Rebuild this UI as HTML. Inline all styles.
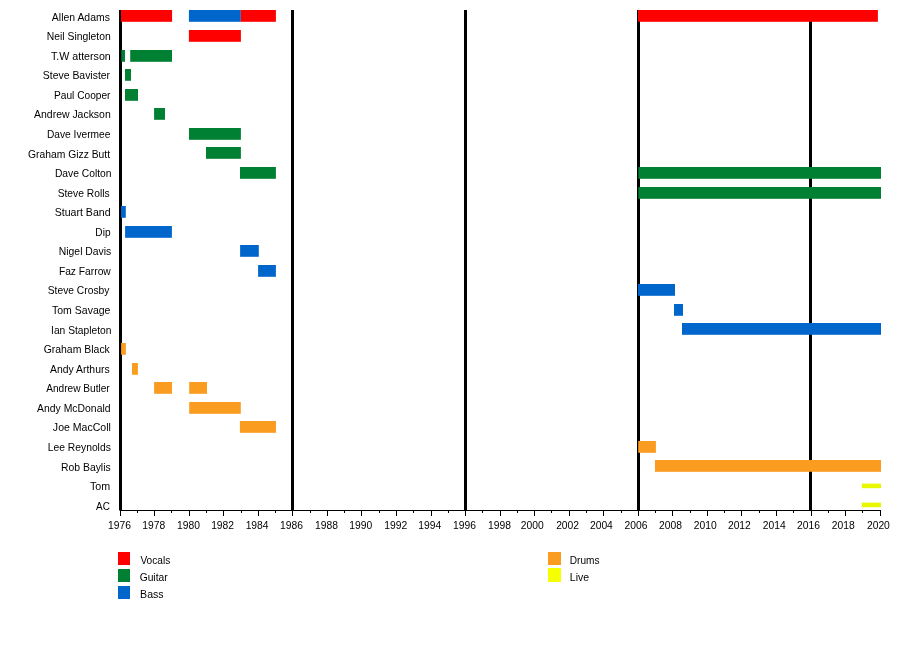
<!DOCTYPE html><html><head><meta charset="utf-8"><style>html,body{margin:0;padding:0;background:#fff;overflow:hidden;}svg{display:block;will-change:transform;}text{font-family:"Liberation Sans",sans-serif;font-size:10.3px;fill:#000;}</style></head><body>
<svg width="900" height="660" viewBox="0 0 900 660">
<rect x="0" y="0" width="900" height="660" fill="#fff"/>
<rect x="119" y="10" width="3" height="500.5" fill="#000"/>
<rect x="291" y="10" width="3" height="500.5" fill="#000"/>
<rect x="464" y="10" width="3" height="500.5" fill="#000"/>
<rect x="637" y="10" width="3" height="500.5" fill="#000"/>
<rect x="809" y="10" width="3" height="500.5" fill="#000"/>
<rect x="121.00" y="10" width="51.10" height="11.8" fill="#FF0000"/>
<rect x="188.90" y="10" width="51.90" height="11.8" fill="#0066CC"/>
<rect x="240.80" y="10" width="35.10" height="11.8" fill="#FF0000"/>
<rect x="638.00" y="10" width="239.90" height="11.8" fill="#FF0000"/>
<rect x="188.90" y="30" width="52.00" height="11.8" fill="#FF0000"/>
<rect x="121.30" y="50" width="3.70" height="11.8" fill="#008033"/>
<rect x="130.20" y="50" width="41.80" height="11.8" fill="#008033"/>
<rect x="125.00" y="69" width="6.00" height="11.8" fill="#008033"/>
<rect x="125.00" y="89" width="13.00" height="11.8" fill="#008033"/>
<rect x="154.10" y="108" width="10.90" height="11.8" fill="#008033"/>
<rect x="189.00" y="128" width="51.90" height="11.8" fill="#008033"/>
<rect x="206.00" y="147" width="34.90" height="11.8" fill="#008033"/>
<rect x="240.00" y="167" width="35.90" height="11.8" fill="#008033"/>
<rect x="638.30" y="167" width="242.70" height="11.8" fill="#008033"/>
<rect x="638.30" y="187" width="242.70" height="11.8" fill="#008033"/>
<rect x="121.00" y="206" width="4.80" height="11.8" fill="#0066CC"/>
<rect x="125.10" y="226" width="46.80" height="11.8" fill="#0066CC"/>
<rect x="240.10" y="245" width="18.70" height="11.8" fill="#0066CC"/>
<rect x="258.10" y="265" width="17.80" height="11.8" fill="#0066CC"/>
<rect x="637.90" y="284" width="37.10" height="11.8" fill="#0066CC"/>
<rect x="674.00" y="304" width="9.00" height="11.8" fill="#0066CC"/>
<rect x="682.00" y="323" width="199.00" height="11.8" fill="#0066CC"/>
<rect x="121.10" y="343" width="4.80" height="11.8" fill="#FA9C20"/>
<rect x="132.00" y="363" width="5.90" height="11.8" fill="#FA9C20"/>
<rect x="154.10" y="382" width="17.90" height="11.8" fill="#FA9C20"/>
<rect x="189.20" y="382" width="17.80" height="11.8" fill="#FA9C20"/>
<rect x="189.20" y="402" width="51.60" height="11.8" fill="#FA9C20"/>
<rect x="239.90" y="421" width="36.10" height="11.8" fill="#FA9C20"/>
<rect x="638.20" y="441" width="17.70" height="11.8" fill="#FA9C20"/>
<rect x="655.00" y="460" width="226.00" height="11.8" fill="#FA9C20"/>
<rect x="861.80" y="483.60" width="19.20" height="4.6" fill="#E8F800"/>
<rect x="861.80" y="502.60" width="19.20" height="4.6" fill="#E8F800"/>
<text x="109.92" y="21" text-anchor="end" textLength="58.06" lengthAdjust="spacingAndGlyphs">Allen Adams</text>
<text x="110.78" y="40" text-anchor="end" textLength="63.99" lengthAdjust="spacingAndGlyphs">Neil Singleton</text>
<text x="110.81" y="60" text-anchor="end" textLength="59.86" lengthAdjust="spacingAndGlyphs">T.W atterson</text>
<text x="110.06" y="79" text-anchor="end" textLength="67.22" lengthAdjust="spacingAndGlyphs">Steve Bavister</text>
<text x="110.5" y="99" text-anchor="end" textLength="56.53" lengthAdjust="spacingAndGlyphs">Paul Cooper</text>
<text x="110.74" y="118" text-anchor="end" textLength="76.65" lengthAdjust="spacingAndGlyphs">Andrew Jackson</text>
<text x="110.39" y="138" text-anchor="end" textLength="63.38" lengthAdjust="spacingAndGlyphs">Dave Ivermee</text>
<text x="110.1" y="158" text-anchor="end" textLength="82.16" lengthAdjust="spacingAndGlyphs">Graham Gizz Butt</text>
<text x="111.47" y="177" text-anchor="end" textLength="56.59" lengthAdjust="spacingAndGlyphs">Dave Colton</text>
<text x="109.64" y="197" text-anchor="end" textLength="51.97" lengthAdjust="spacingAndGlyphs">Steve Rolls</text>
<text x="110.6" y="216" text-anchor="end" textLength="55.9" lengthAdjust="spacingAndGlyphs">Stuart Band</text>
<text x="110.5" y="236" text-anchor="end" textLength="15.15" lengthAdjust="spacingAndGlyphs">Dip</text>
<text x="111.29" y="255" text-anchor="end" textLength="52.49" lengthAdjust="spacingAndGlyphs">Nigel Davis</text>
<text x="110.77" y="275" text-anchor="end" textLength="51.87" lengthAdjust="spacingAndGlyphs">Faz Farrow</text>
<text x="109.38" y="294" text-anchor="end" textLength="61.63" lengthAdjust="spacingAndGlyphs">Steve Crosby</text>
<text x="110.44" y="314" text-anchor="end" textLength="58.4" lengthAdjust="spacingAndGlyphs">Tom Savage</text>
<text x="111.41" y="334" text-anchor="end" textLength="60.35" lengthAdjust="spacingAndGlyphs">Ian Stapleton</text>
<text x="109.85" y="353" text-anchor="end" textLength="66.18" lengthAdjust="spacingAndGlyphs">Graham Black</text>
<text x="109.59" y="373" text-anchor="end" textLength="59.47" lengthAdjust="spacingAndGlyphs">Andy Arthurs</text>
<text x="109.74" y="392" text-anchor="end" textLength="63.58" lengthAdjust="spacingAndGlyphs">Andrew Butler</text>
<text x="110.54" y="412" text-anchor="end" textLength="73.42" lengthAdjust="spacingAndGlyphs">Andy McDonald</text>
<text x="110.84" y="431" text-anchor="end" textLength="57.97" lengthAdjust="spacingAndGlyphs">Joe MacColl</text>
<text x="110.8" y="451" text-anchor="end" textLength="63.04" lengthAdjust="spacingAndGlyphs">Lee Reynolds</text>
<text x="110.72" y="471" text-anchor="end" textLength="49.77" lengthAdjust="spacingAndGlyphs">Rob Baylis</text>
<text x="110.23" y="490" text-anchor="end" textLength="20.2" lengthAdjust="spacingAndGlyphs">Tom</text>
<text x="109.83" y="510" text-anchor="end" textLength="13.76" lengthAdjust="spacingAndGlyphs">AC</text>
<rect x="120" y="510" width="761" height="1" fill="#000"/>
<rect x="120" y="511" width="1" height="5" fill="#000"/>
<text x="119.56" y="529" text-anchor="middle">1976</text>
<rect x="137" y="511" width="1" height="2" fill="#000"/>
<rect x="154" y="511" width="1" height="5" fill="#000"/>
<text x="153.67" y="529" text-anchor="middle">1978</text>
<rect x="171" y="511" width="1" height="2" fill="#000"/>
<rect x="189" y="511" width="1" height="5" fill="#000"/>
<text x="188.50" y="529" text-anchor="middle">1980</text>
<rect x="206" y="511" width="1" height="2" fill="#000"/>
<rect x="223" y="511" width="1" height="5" fill="#000"/>
<text x="222.60" y="529" text-anchor="middle">1982</text>
<rect x="241" y="511" width="1" height="2" fill="#000"/>
<rect x="258" y="511" width="1" height="5" fill="#000"/>
<text x="257.10" y="529" text-anchor="middle">1984</text>
<rect x="275" y="511" width="1" height="2" fill="#000"/>
<rect x="292" y="511" width="1" height="5" fill="#000"/>
<text x="291.43" y="529" text-anchor="middle">1986</text>
<rect x="310" y="511" width="1" height="2" fill="#000"/>
<rect x="327" y="511" width="1" height="5" fill="#000"/>
<text x="326.44" y="529" text-anchor="middle">1988</text>
<rect x="344" y="511" width="1" height="2" fill="#000"/>
<rect x="361" y="511" width="1" height="5" fill="#000"/>
<text x="360.68" y="529" text-anchor="middle">1990</text>
<rect x="379" y="511" width="1" height="2" fill="#000"/>
<rect x="396" y="511" width="1" height="5" fill="#000"/>
<text x="395.73" y="529" text-anchor="middle">1992</text>
<rect x="413" y="511" width="1" height="2" fill="#000"/>
<rect x="431" y="511" width="1" height="5" fill="#000"/>
<text x="429.74" y="529" text-anchor="middle">1994</text>
<rect x="448" y="511" width="1" height="2" fill="#000"/>
<rect x="465" y="511" width="1" height="5" fill="#000"/>
<text x="464.56" y="529" text-anchor="middle">1996</text>
<rect x="482" y="511" width="1" height="2" fill="#000"/>
<rect x="500" y="511" width="1" height="5" fill="#000"/>
<text x="499.44" y="529" text-anchor="middle">1998</text>
<rect x="517" y="511" width="1" height="2" fill="#000"/>
<rect x="534" y="511" width="1" height="5" fill="#000"/>
<text x="532.29" y="529" text-anchor="middle">2000</text>
<rect x="551" y="511" width="1" height="2" fill="#000"/>
<rect x="569" y="511" width="1" height="5" fill="#000"/>
<text x="567.60" y="529" text-anchor="middle">2002</text>
<rect x="586" y="511" width="1" height="2" fill="#000"/>
<rect x="603" y="511" width="1" height="5" fill="#000"/>
<text x="601.39" y="529" text-anchor="middle">2004</text>
<rect x="621" y="511" width="1" height="2" fill="#000"/>
<rect x="638" y="511" width="1" height="5" fill="#000"/>
<text x="636.08" y="529" text-anchor="middle">2006</text>
<rect x="655" y="511" width="1" height="2" fill="#000"/>
<rect x="672" y="511" width="1" height="5" fill="#000"/>
<text x="670.58" y="529" text-anchor="middle">2008</text>
<rect x="690" y="511" width="1" height="2" fill="#000"/>
<rect x="707" y="511" width="1" height="5" fill="#000"/>
<text x="705.30" y="529" text-anchor="middle">2010</text>
<rect x="724" y="511" width="1" height="2" fill="#000"/>
<rect x="741" y="511" width="1" height="5" fill="#000"/>
<text x="739.38" y="529" text-anchor="middle">2012</text>
<rect x="759" y="511" width="1" height="2" fill="#000"/>
<rect x="776" y="511" width="1" height="5" fill="#000"/>
<text x="774.18" y="529" text-anchor="middle">2014</text>
<rect x="793" y="511" width="1" height="2" fill="#000"/>
<rect x="811" y="511" width="1" height="5" fill="#000"/>
<text x="808.51" y="529" text-anchor="middle">2016</text>
<rect x="828" y="511" width="1" height="2" fill="#000"/>
<rect x="845" y="511" width="1" height="5" fill="#000"/>
<text x="843.18" y="529" text-anchor="middle">2018</text>
<rect x="862" y="511" width="1" height="2" fill="#000"/>
<rect x="880" y="511" width="1" height="5" fill="#000"/>
<text x="878.40" y="529" text-anchor="middle">2020</text>
<rect x="118" y="552" width="12" height="13" fill="#FF0000"/>
<rect x="118" y="569" width="12" height="13" fill="#008033"/>
<rect x="118" y="586" width="12" height="13" fill="#0066CC"/>
<rect x="548" y="552" width="13" height="13" fill="#FA9C20"/>
<rect x="548" y="568" width="13" height="14" fill="#F6FF00"/>
<text x="140.4" y="564" textLength="29.88" lengthAdjust="spacingAndGlyphs">Vocals</text>
<text x="139.66" y="581" textLength="27.97" lengthAdjust="spacingAndGlyphs">Guitar</text>
<text x="140.08" y="598" textLength="23.54" lengthAdjust="spacingAndGlyphs">Bass</text>
<text x="569.72" y="564" textLength="29.78" lengthAdjust="spacingAndGlyphs">Drums</text>
<text x="569.85" y="581" textLength="19.25" lengthAdjust="spacingAndGlyphs">Live</text>
</svg></body></html>
